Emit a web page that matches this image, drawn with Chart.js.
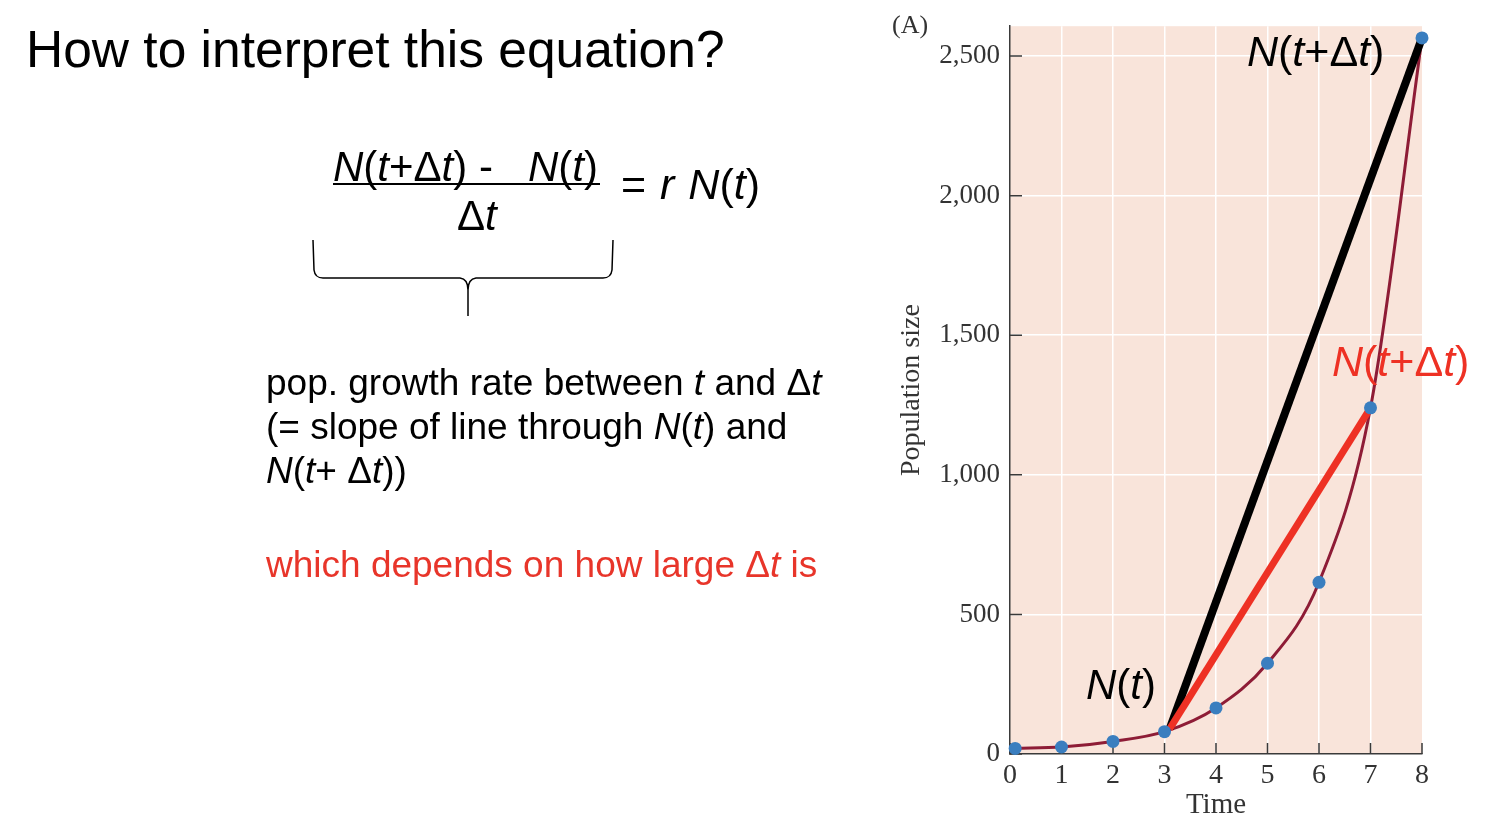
<!DOCTYPE html>
<html>
<head>
<meta charset="utf-8">
<script src="https://cdn.jsdelivr.net/npm/chart.js@4.4.1/dist/chart.umd.min.js"></script>
<style>
  body { margin: 0; background: #fff; }
  #wrap { position: relative; width: 1487px; height: 818px; overflow: hidden; }
  #chart { position: absolute; left: 0; top: 0; }
  .t { position: absolute; font-family: "Liberation Sans", Arial, sans-serif; color: #000; white-space: nowrap; line-height: 1; }
  .red { color: #e8352a; }
</style>
</head>
<body>
<div id="wrap">
  <canvas id="chart" width="1487" height="818"></canvas>

  <div class="t" style="left:26px; top:24px; font-size:51.5px;">How to interpret this equation?</div>

  <div class="t" style="left:333px; top:146px; font-size:42px;"><i>N</i>(<i>t</i>+Δ<i>t</i>) -&nbsp;&nbsp; <i>N</i>(<i>t</i>)</div>
  <div style="position:absolute; left:333px; top:183px; width:267px; height:2px; background:#000;"></div>
  <div class="t" style="left:457px; top:195px; font-size:42px;">Δ<i>t</i></div>
  <div class="t" style="left:621px; top:163px; font-size:43px; word-spacing:2px;">= <i>r N</i>(<i>t</i>)</div>

  <svg style="position:absolute; left:0; top:0;" width="900" height="400">
    <path d="M313,240 L314,270 Q315,278 323,278 L460,278 Q468,279 468,290 L468,316 M613,240 L612,270 Q611,278 603,278 L476,278 Q468,279 468,290"
          fill="none" stroke="#000" stroke-width="1.5"/>
  </svg>

  <div class="t" style="left:266px; top:361px; font-size:37px; line-height:44px;">
    pop. growth rate between <i>t</i> and Δ<i>t</i><br>
    (= slope of line through <i>N</i>(<i>t</i>) and<br>
    <i>N</i>(<i>t</i>+ Δ<i>t</i>))
  </div>

  <div class="t red" style="left:266px; top:546px; font-size:37px;">which depends on how large Δ<i>t</i> is</div>
</div>

<script>
// data
const times = [0.1, 1, 2, 3, 4, 5, 6, 7, 8];
const popSize = [20, 25, 45, 80, 165, 325, 615, 1240, 2565];
const xTickValues = [0, 1, 2, 3, 4, 5, 6, 7, 8];
const yTickValues = [0, 500, 1000, 1500, 2000, 2500];
// secant lines from N(t) to N(t+Δt)
const longSecant = [[3.1, 90], [8, 2565]];
const shortSecant = [[3.1, 90], [7, 1240]];

const curvePts = times.map((t, i) => ({ x: t, y: popSize[i] }));
const toXY = arr => arr.map(p => ({ x: p[0], y: p[1] }));

const SERIF = '"Liberation Serif", "Times New Roman", serif';
const SANS = '"Liberation Sans", Arial, sans-serif';

function drawRuns(ctx, runs, x, y, size, color) {
    let cx = x;
    ctx.fillStyle = color;
    ctx.textBaseline = 'alphabetic';
    ctx.textAlign = 'left';
    for (const [txt, it] of runs) {
        ctx.font = (it ? 'italic ' : '') + size + 'px ' + SANS;
        ctx.fillText(txt, cx, y);
        cx += ctx.measureText(txt).width;
    }
}

const ntdt = [['N', true], ['(', false], ['t', true], ['+Δ', false], ['t', true], [')', false]];
const nt = [['N', true], ['(', false], ['t', true], [')', false]];

const decorPlugin = {
    id: 'decor',
    beforeDraw(chart) {
        const { ctx, chartArea: a } = chart;
        ctx.save();
        ctx.fillStyle = '#f9e4da';
        ctx.fillRect(a.left, a.top, a.right - a.left, a.bottom - a.top);
        ctx.restore();
    },
    beforeDatasetsDraw(chart) {
        const { ctx, chartArea: a, scales } = chart;
        ctx.save();
        ctx.strokeStyle = '#3a3a3a';
        ctx.lineWidth = 1.5;
        ctx.beginPath();
        yTickValues.forEach(v => {
            const py = scales.y.getPixelForValue(v);
            ctx.moveTo(a.left, py);
            ctx.lineTo(a.left + 12, py);
        });
        xTickValues.forEach(v => {
            const px = scales.x.getPixelForValue(v);
            ctx.moveTo(px, a.bottom);
            ctx.lineTo(px, a.bottom - 11);
        });
        ctx.stroke();
        ctx.restore();
    },
    afterDraw(chart) {
        const ctx = chart.ctx;
        ctx.save();
        drawRuns(ctx, ntdt, 1247, 66, 43, '#000');
        drawRuns(ctx, ntdt, 1332, 376, 43, '#ee3124');
        drawRuns(ctx, nt, 1086, 699, 42, '#000');
        ctx.font = '26px ' + SERIF;
        ctx.fillStyle = '#333';
        ctx.fillText('(A)', 892, 33);
        ctx.restore();
    }
};

new Chart(document.getElementById('chart').getContext('2d'), {
    type: 'line',
    data: {
        datasets: [
            { data: toXY(longSecant), borderColor: '#000', borderWidth: 8, pointRadius: 0, order: 3 },
            { data: toXY(shortSecant), borderColor: '#ee3124', borderWidth: 7, pointRadius: 0, order: 2 },
            { data: curvePts, borderColor: '#8e1c36', borderWidth: 3, pointRadius: 0,
              cubicInterpolationMode: 'monotone', order: 4 },
            { data: curvePts, showLine: false, pointRadius: 6.5, pointBackgroundColor: '#3a7ebf',
              pointBorderWidth: 0, order: 1 }
        ]
    },
    options: {
        responsive: false,
        animation: false,
        events: [],
        clip: false,
        layout: { padding: { left: 880, right: 65, top: 22, bottom: 0 } },
        plugins: { legend: { display: false }, tooltip: { enabled: false } },
        scales: {
            x: {
                type: 'linear', min: 0, max: 8,
                afterBuildTicks: s => { s.ticks = xTickValues.map(v => ({ value: v })); },
                afterFit: s => { s.height = 64; },
                ticks: { padding: 5, color: '#333', maxRotation: 0, autoSkip: false,
                         font: { family: SERIF, size: 28 } },
                grid: { drawTicks: false, lineWidth: 1.5,
                        color: c => (c.tick.value === 0 || c.tick.value === 8) ? 'rgba(0,0,0,0)' : '#ffffff' },
                border: { display: true, color: '#3a3a3a', width: 1.5 },
                title: { display: true, text: 'Time', color: '#333', padding: { bottom: -2 },
                         font: { family: SERIF, size: 29, lineHeight: 1 } }
            },
            y: {
                min: 0, max: 2607,
                afterBuildTicks: s => { s.ticks = yTickValues.map(v => ({ value: v })); },
                afterFit: s => { s.width = 130; },
                ticks: { padding: 10, color: '#333', autoSkip: false,
                         font: { family: SERIF, size: 27 },
                         callback: v => v.toLocaleString('en-US') },
                grid: { drawTicks: false, lineWidth: 1.5,
                        color: c => c.tick.value === 0 ? 'rgba(0,0,0,0)' : '#ffffff' },
                border: { display: true, color: '#3a3a3a', width: 1.5 },
                title: { display: true, text: 'Population size', color: '#333',
                         padding: { top: 15 }, font: { family: SERIF, size: 28 } }
            }
        }
    },
    plugins: [decorPlugin]
});
</script>
</body>
</html>
